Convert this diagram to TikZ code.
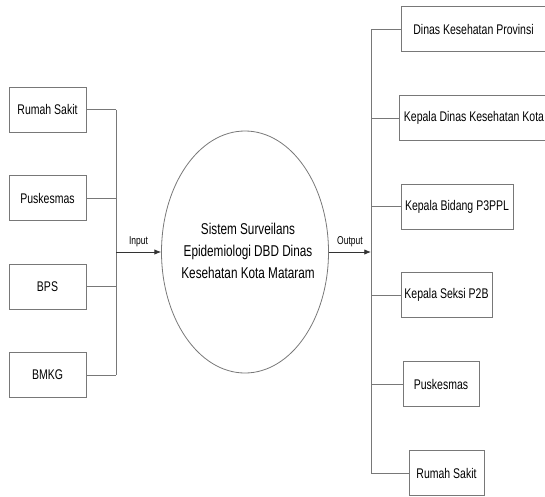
\documentclass[tikz,border=0pt]{standalone}
\usepackage{fontspec}
\setmainfont[FakeStretch=0.75]{Liberation Sans}
\usetikzlibrary{arrows.meta,shapes.geometric}
\definecolor{linegray}{RGB}{120,120,120}
\tikzset{
  unitbox/.style={draw=linegray, line width=0.6pt, minimum height=33.75pt, inner sep=0pt, font=\fontsize{10.5}{12}\selectfont},
  wire/.style={draw=linegray, line width=0.6pt},
  tip/.style={-{Latex[length=5pt,width=4pt]}, black!80},
  flowlabel/.style={midway, above, black, font=\fontsize{8.5}{10}\selectfont}
}
\begin{document}
\begin{tikzpicture}[x=0.75pt, y=-0.75pt]
            \useasboundingbox (0,0) rectangle (545,496);

            \node[draw=linegray, line width=0.6pt, ellipse, inner sep=0pt,
                minimum width=125.25pt, minimum height=181.5pt] (sys) at (245,252) {};
            \node[align=center, font=\fontsize{11.75}{16.5}\selectfont] (systext) at (248,251)
                {Sistem Surveilans\\Epidemiologi DBD Dinas\\Kesehatan Kota Mataram};

            \node[unitbox, minimum width=57.75pt] (rsin) at (47.5,109.5) {Rumah Sakit};
            \node[unitbox, minimum width=57.75pt] (pkin) at (47.5,198) {Puskesmas};
            \node[unitbox, minimum width=57.75pt] (bps) at (47.5,286.5) {BPS};
            \node[unitbox, minimum width=57.75pt] (bmkg) at (47.5,375) {BMKG};

            \node[unitbox, minimum width=108.75pt] (prov) at (473.5,29) {Dinas Kesehatan Provinsi};
            \node[unitbox, minimum width=112.5pt] (kadin) at (474,118) {Kepala Dinas Kesehatan Kota};
            \node[unitbox, minimum width=84pt] (kabid) at (457,206.5) {Kepala Bidang P3PPL};
            \node[unitbox, minimum width=68.25pt] (kasi) at (446.5,295) {Kepala Seksi P2B};
            \node[unitbox, minimum width=57pt] (pkout) at (441,384) {Puskesmas};
            \node[unitbox, minimum width=56.25pt] (rsout) at (446.5,473) {Rumah Sakit};

            \coordinate (inbus) at (116,252);
            \coordinate (outbus) at (371,252);

            \draw[wire] (rsin.east) -- (rsin.east -| inbus);
            \draw[wire] (pkin.east) -- (pkin.east -| inbus);
            \draw[wire] (bps.east) -- (bps.east -| inbus);
            \draw[wire] (bmkg.east) -- (bmkg.east -| inbus);
            \draw[wire] (rsin.east -| inbus) -- (bmkg.east -| inbus);
            \draw[wire, tip] (inbus) -- (sys.west) node[flowlabel] {Input};

            \draw[wire, tip] (sys.east) -- (outbus) node[flowlabel] {Output};
            \draw[wire] (prov.west -| outbus) -- (rsout.west -| outbus);
            \draw[wire] (prov.west -| outbus) -- (prov.west);
            \draw[wire] (kadin.west -| outbus) -- (kadin.west);
            \draw[wire] (kabid.west -| outbus) -- (kabid.west);
            \draw[wire] (kasi.west -| outbus) -- (kasi.west);
            \draw[wire] (pkout.west -| outbus) -- (pkout.west);
            \draw[wire] (rsout.west -| outbus) -- (rsout.west);
        \end{tikzpicture}
\end{document}
